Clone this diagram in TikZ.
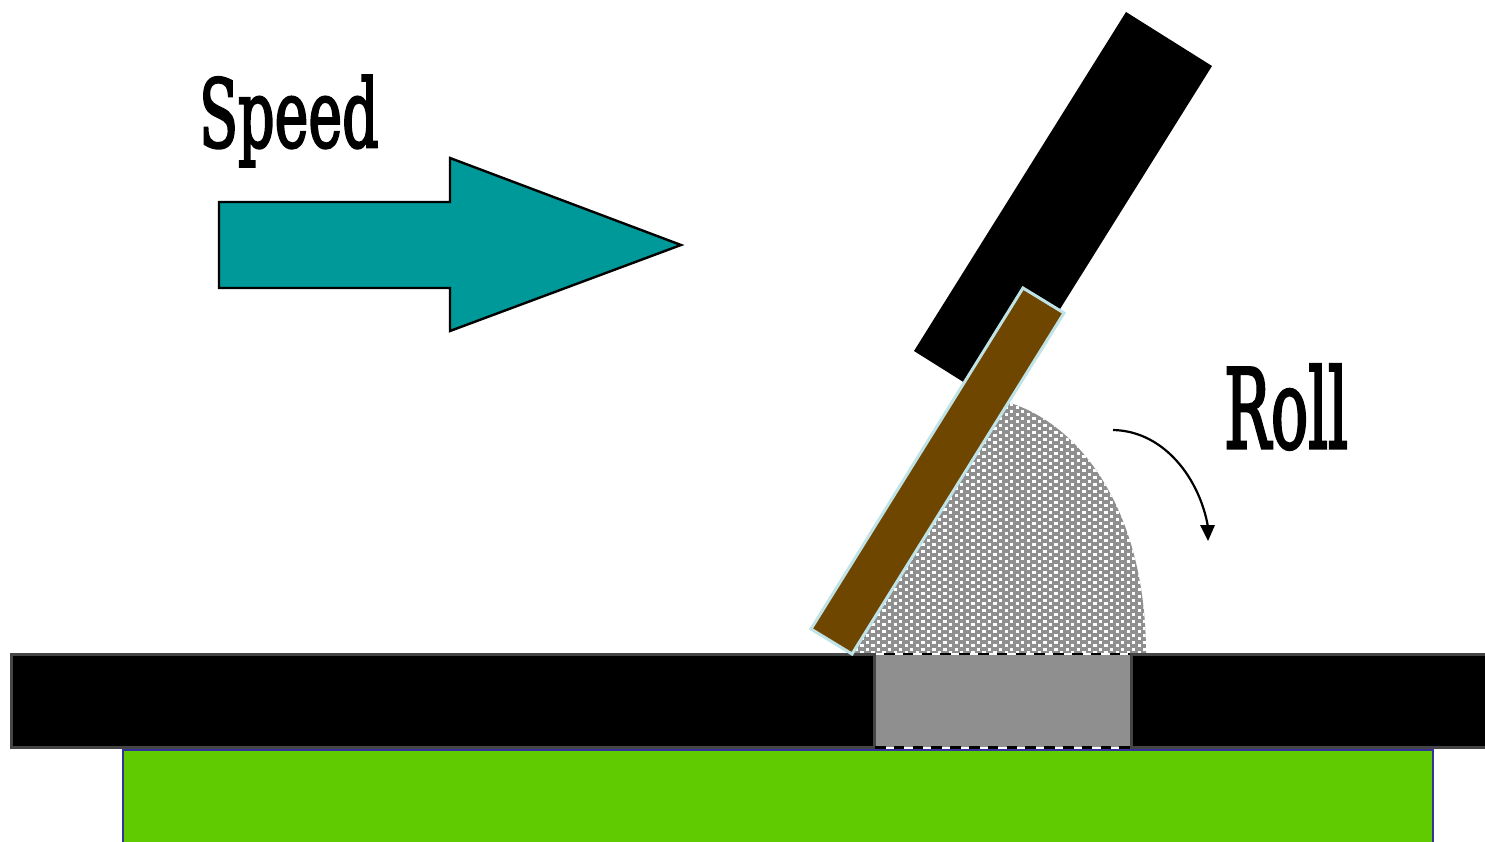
\documentclass[tikz,border=0pt]{standalone}
\usepackage{fontspec}
\setmainfont[BoldFont={DejaVu Serif},BoldFeatures={FakeBold=3}]{DejaVu Serif}
\tikzset{
  plate/.style={fill=black,draw=plategray,line width=3pt},
  lbl/.style={inner sep=0pt,font=\bfseries,anchor=base west},
  dashline/.style={black,line width=2.6pt,dash pattern=on 10.6pt off 8.2pt},
}
\definecolor{plategray}{HTML}{454545}
\definecolor{teal1}{HTML}{009999}
\definecolor{brown1}{HTML}{6F4600}
\definecolor{edge1}{HTML}{BFE3E6}
\definecolor{green1}{HTML}{5FCB00}
\definecolor{blue1}{HTML}{333399}
\definecolor{gray1}{HTML}{8F8F8F}
\begin{document}
\begin{tikzpicture}[x=1pt,y=-1pt]
\useasboundingbox (0,0) rectangle (1485,842);
\fill[white] (0,0) rectangle (1485,842);
% speed arrow
\draw[fill=teal1,line width=2.4pt,line join=miter] (219,202) -- (450,202) -- (450,158) -- (681,245) -- (450,331) -- (450,288) -- (219,288) -- cycle;
% labels
\node[lbl,xscale=5.7,yscale=9.4] (speed) at (198,147) {Speed};
\node[lbl,xscale=6.2,yscale=11] (roll) at (1223,448) {Roll};
% handle
\fill[black] (1126,12) -- (1212,66) -- (1000,405) -- (914,351) -- cycle;
% bead with dot pattern
\begin{scope}
\clip (846,654) -- (1010,403) .. controls (1080,425) and (1146,510) .. (1146,654) -- cycle;
\fill[gray1] (840,395) rectangle (1150,656);
\foreach \c in {0,...,56}{
  \pgfmathsetmacro{\xx}{838+5.55*\c}
  \pgfmathsetmacro{\oy}{mod(\c,2)*3.5}
  \foreach \r in {0,...,38}{
    \fill[white] (\xx,{392+\oy+7*\r}) rectangle ++(3.3,3);
  }
}
\end{scope}
% plate
\draw[plate] (11,654) rectangle (1495,747);
% green base
\draw[fill=green1,draw=blue1,line width=2.8pt] (123,750) rectangle (1433,860);
% insert
\fill[gray1] (874,654) rectangle (1131,747);
\draw[plategray,line width=3pt] (874,654) -- (874,747) (1131,654) -- (1131,747);
\draw[white,line width=2pt] (876,654) -- (1130,654) (876,747.5) -- (1130,747.5);
\draw[dashline] (884,654) -- (1130,654);
\draw[dashline] (875,747.3) -- (1130,747.3);
% blade
\draw[fill=brown1,draw=edge1,line width=3pt,line join=miter] (1023,288) -- (1064,313) -- (852,654) -- (811,629) -- cycle;
% roll arrow
\draw[line width=2.2pt] (1113,430) .. controls (1165,431) and (1200,480) .. (1208,527);
\fill[black] (1200,525) -- (1215,525) -- (1208,541) -- cycle;
\end{tikzpicture}
\end{document}
